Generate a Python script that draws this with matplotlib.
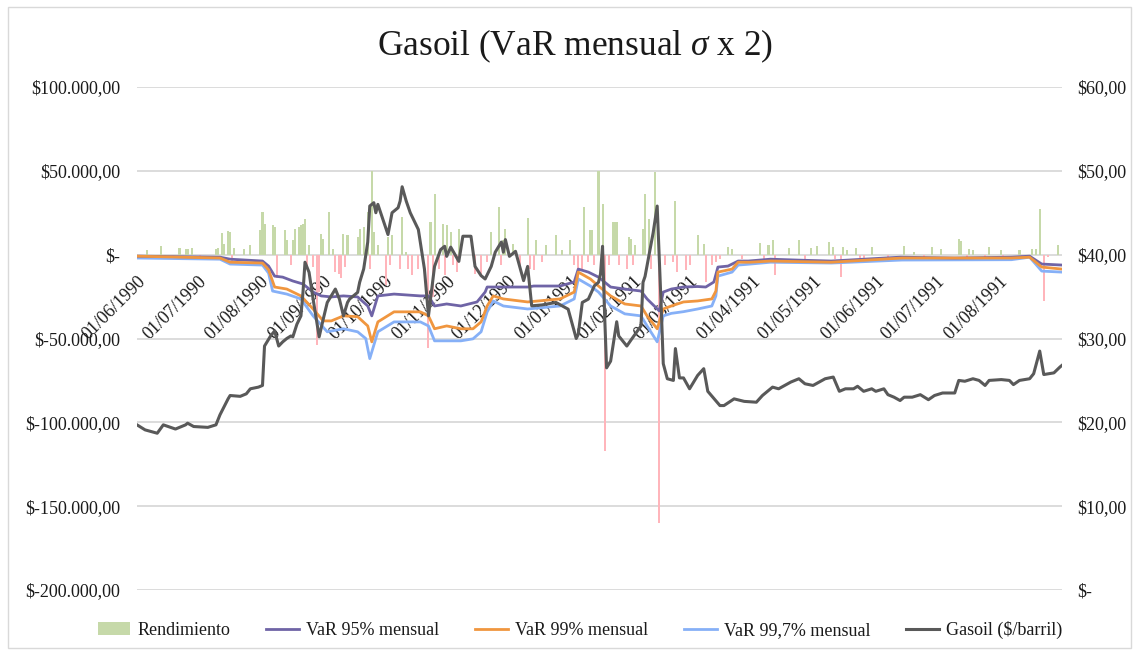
import numpy as np
import matplotlib
matplotlib.use("Agg")
import matplotlib.pyplot as plt
import matplotlib.dates as mdates
from matplotlib.patches import Patch, Rectangle
from matplotlib.lines import Line2D
from matplotlib.ticker import FixedLocator, FuncFormatter

plt.rcParams['font.family'] = ['Liberation Serif', 'DejaVu Serif']
plt.rcParams['mathtext.fontset'] = 'custom'
plt.rcParams['mathtext.it'] = 'Liberation Serif:italic'
plt.rcParams['mathtext.rm'] = 'Liberation Serif'

START = np.datetime64('1990-06-01')

# ---- Gasoil price ($/barril), right axis: day offset from 01/06/1990, price
gas_days = [0, 4, 10, 13, 19, 24, 25, 28, 35, 39, 41, 45, 46, 51, 54, 56, 60, 62, 63, 66,
            68, 70, 72, 74, 76, 77, 79, 81, 82, 83, 85, 87, 90, 92, 94, 98, 100, 102, 104, 105,
            109, 110, 112, 114, 115, 117, 118, 119, 124, 126, 129, 130, 131, 133, 135, 139, 142, 144, 147, 150,
            152, 153, 155, 159, 161, 165, 167, 170, 172, 175, 177, 180, 181, 182, 184, 187, 191, 193, 195, 200,
            207, 213, 217, 218, 220, 223, 226, 228, 229, 230, 231, 232, 234, 237, 238, 242, 244, 249, 250, 251,
            255, 257, 259, 260, 262, 265, 266, 268, 270, 273, 277, 280, 282, 288, 290, 295, 300, 306, 309, 314,
            317, 323, 327, 330, 334, 340, 344, 347, 350, 354, 356, 359, 363, 365, 369, 371, 374, 377, 379, 383,
            387, 391, 394, 398, 404, 406, 409, 413, 416, 419, 421, 427, 431, 433, 436, 441, 443, 446, 448, 453,
            456, 457]
gas_price = [19.7, 19.1, 18.7, 19.7, 19.2, 19.7, 19.9, 19.5, 19.4, 19.7, 20.9, 22.8, 23.2, 23.1, 23.4, 24.0, 24.2, 24.4, 29.1, 30.3,
             30.9, 29.1, 29.6, 30.0, 30.3, 30.2, 31.7, 32.7, 35.5, 39.1, 37.9, 34.7, 30.2, 32.3, 34.3, 35.9, 34.7, 32.7, 34.3, 34.7,
             35.5, 36.7, 38.3, 41.5, 45.8, 46.2, 45.0, 46.0, 42.4, 45.0, 45.6, 46.4, 48.1, 46.4, 45.0, 43.0, 38.3, 32.7, 38.6, 40.6,
             41.0, 39.8, 40.9, 39.2, 42.2, 42.2, 38.6, 37.5, 37.1, 38.6, 40.3, 41.5, 40.3, 41.8, 39.8, 40.4, 36.9, 38.6, 33.9, 34.0,
             34.3, 33.5, 30.0, 30.5, 34.3, 34.7, 36.3, 36.7, 37.7, 41.0, 33.0, 26.5, 27.3, 32.0, 30.3, 29.1, 29.8, 31.5, 36.7, 37.4,
             42.6, 45.8, 33.7, 27.0, 25.2, 25.0, 28.8, 25.3, 25.3, 24.0, 25.6, 26.4, 23.7, 22.0, 22.0, 22.8, 22.5, 22.4, 23.2, 24.2,
             24.0, 24.8, 25.2, 24.6, 24.4, 25.2, 25.4, 23.7, 24.0, 24.0, 24.3, 23.7, 24.0, 23.7, 24.0, 23.3, 23.0, 22.6, 23.0, 23.0,
             23.3, 22.7, 23.2, 23.5, 23.5, 25.0, 24.9, 25.2, 25.0, 24.4, 25.0, 25.1, 25.0, 24.5, 25.0, 25.2, 25.8, 28.5, 25.7, 25.9,
             26.6, 26.8]

# ---- VaR series (left axis)
var95_days = [0, 41, 46, 62, 65, 68, 72, 77, 82, 87, 91, 96, 102, 109, 114, 116, 119, 127, 140, 144,
              147, 153, 160, 168, 172, 173, 181, 193, 196, 209, 216, 218, 223, 228, 234, 241, 249, 252, 258, 260,
              264, 270, 277, 281, 285, 287, 292, 297, 302, 313, 328, 343, 377, 404, 432, 441, 447, 457]
var95 = [-900, -1500, -2700, -3800, -6800, -12800, -13400, -15700, -17500, -22300, -24600, -25200, -24600, -25200, -30600, -36500, -24600, -23500, -24600, -24600,
         -30600, -29400, -30600, -28200, -22300, -19300, -19300, -19300, -18700, -18700, -16300, -8600, -10400, -13400, -19300, -20500, -21700, -26400, -33500, -22300,
         -20500, -19300, -19000, -19300, -16300, -7400, -6800, -3800, -3800, -2700, -3300, -3800, -1500, -2000, -1500, -900, -5600, -6200]

var99_days = [0, 41, 46, 62, 65, 68, 74, 81, 87, 92, 96, 102, 109, 114, 116, 119, 127, 140, 144, 147,
              153, 160, 166, 170, 173, 176, 181, 193, 209, 216, 218, 224, 228, 234, 241, 249, 252, 257, 260, 264,
              270, 277, 284, 286, 287, 294, 297, 303, 313, 343, 378, 432, 441, 447, 457]
var99 = [-900, -2000, -4500, -5000, -9000, -19300, -20500, -24600, -32400, -39500, -39500, -36500, -37000, -42500, -52000, -40100, -34100, -34100, -36500, -44200,
         -42500, -44200, -44200, -40100, -30600, -24600, -26400, -28200, -26400, -22300, -10400, -14500, -18700, -24600, -29400, -30600, -36500, -44200, -32400, -30600,
         -28200, -27600, -26400, -21700, -10400, -8600, -4500, -4500, -3800, -4500, -2000, -2000, -1500, -7400, -8600]

var997_days = [0, 41, 46, 62, 65, 67, 74, 81, 87, 94, 102, 109, 113, 115, 119, 127, 140, 144, 147, 160,
               166, 170, 173, 176, 181, 193, 209, 216, 218, 224, 228, 234, 241, 249, 252, 257, 260, 264, 270, 277,
               284, 286, 287, 294, 297, 303, 313, 343, 378, 432, 441, 447, 457]
var997 = [-2000, -2700, -5600, -6200, -11000, -21700, -23500, -26400, -36500, -46000, -44200, -46000, -50000, -62000, -46000, -40100, -40100, -42500, -51400, -51400,
          -50200, -46000, -34100, -27600, -30600, -32400, -30600, -26400, -14500, -18700, -22300, -30600, -35300, -36500, -42500, -52000, -36500, -35000, -34000, -32400,
          -30600, -24600, -12800, -10400, -6200, -5600, -4500, -5000, -3200, -3000, -1500, -9800, -10400]

# ---- Rendimiento (daily P&L bars), left axis
ret_days = [5, 12, 21, 24, 25, 27, 39, 40, 42, 43, 45, 46, 48, 53, 56, 61, 62, 63, 67, 68,
            73, 74, 77, 78, 80, 81, 82, 83, 85, 91, 92, 95, 97, 102, 104, 109, 110, 112, 114, 116,
            117, 119, 124, 126, 131, 133, 145, 147, 151, 153, 155, 159, 166, 175, 179, 181, 182, 186, 193, 197,
            202, 207, 210, 214, 221, 224, 225, 228, 230, 235, 236, 237, 243, 244, 246, 250, 251, 253, 256, 266,
            277, 280, 292, 294, 308, 312, 314, 322, 327, 333, 336, 342, 344, 349, 351, 355, 363, 379, 384, 393,
            397, 406, 407, 411, 413, 421, 427, 436, 442, 444, 446, 455,
            3, 14, 18, 31, 47, 69, 76, 84, 87, 89, 90, 98, 100, 101, 103, 115, 123, 125, 130, 134,
            136, 139, 144, 146, 149, 152, 156, 158, 167, 170, 173, 180, 189, 194, 196, 200, 216, 218, 220, 223,
            226, 231, 233, 238, 242, 245, 254, 258, 261, 265, 267, 271, 273, 281, 284, 286, 288, 299, 310, 315,
            330, 345, 348, 357, 359, 371, 389, 410, 419, 428, 437, 448, 450]
ret_vals = [2600, 5100, 4000, 3200, 3500, 4000, 3200, 4000, 13100, 6400, 13900, 13500, 4000, 3500, 5900, 14500, 25300, 18400, 17400, 16400,
            14500, 8500, 8500, 15400, 16400, 17400, 18400, 21400, 5600, 12500, 9500, 25700, 3500, 12500, 11500, 10500, 15400, 16400, 25300, 50000,
            13500, 5600, 10500, 11500, 22400, 1600, 19400, 36200, 18400, 17400, 13500, 15400, 2600, 13500, 28300, 8500, 15400, 6400, 21800, 8500,
            5600, 11500, 2600, 8500, 28300, 14500, 14500, 50000, 30300, 19400, 19400, 19400, 10500, 9500, 5900, 15400, 36200, 21400, 49500, 32300,
            11500, 6500, 4500, 3500, 6900, 5900, 8900, 3900, 8500, 3900, 5000, 7500, 4500, 4500, 2600, 4000, 4500, 5100, 1600, 4500,
            3500, 9500, 8000, 3500, 2600, 4500, 2600, 2600, 3200, 3200, 27300, 5900,
            -2400, -2000, -2000, -2000, -4400, -14200, -6400, -7300, -7300, -54000, -22000, -10300, -11300, -14200, -7300, -8300, -18200, -6400, -8300, -8300,
            -12300, -8300, -55800, -25000, -8300, -12300, -6400, -10300, -11300, -12300, -4400, -6400, -6400, -8300, -9300, -4400, -6400, -14200, -8300, -4400,
            -6400, -117000, -6400, -6400, -8300, -6400, -8300, -160000, -6400, -4400, -10300, -9300, -6400, -16300, -6400, -4400, -2400, -2400, -2400, -12300,
            -2400, -2400, -13300, -2400, -2400, -1600, -1600, -1600, -1600, -2000, -1600, -27600, -1600]

left_ticks = [100000, 50000, 0, -50000, -100000, -150000, -200000]
right_ticks = [60, 50, 40, 30, 20, 10, 0]
month_ticks = ['1990-06-01', '1990-07-01', '1990-08-01', '1990-09-01', '1990-10-01', '1990-11-01',
               '1990-12-01', '1991-01-01', '1991-02-01', '1991-03-01', '1991-04-01', '1991-05-01',
               '1991-06-01', '1991-07-01', '1991-08-01']


def to_dates(days):
    return START + np.array(days, dtype='timedelta64[D]')


def left_fmt(v, pos=None):
    if v == 0:
        return '$-'
    s = f"{abs(v):,.2f}".replace(',', 'X').replace('.', ',').replace('X', '.')
    return ('$-' if v < 0 else '$') + s


def right_fmt(v, pos=None):
    if v == 0:
        return '$-'
    return '$' + f"{v:.2f}".replace('.', ',')


W, H = 1139, 655
fig = plt.figure(figsize=(W / 100, H / 100), dpi=100, facecolor='white')
fig.patches.append(Rectangle((8 / W, 1 - 648 / H), (1131 - 8) / W, (648 - 7) / H,
                             transform=fig.transFigure, fill=False, edgecolor='#d9d9d9', lw=1.0))

ax = fig.add_axes([137 / W, 1 - 590 / H, (1062 - 137) / W, (590 - 87) / H])
ax2 = ax.twinx()

green = '#c6d9a9'
pink = '#ffb5bb'
c95 = '#6f64a6'
c99 = '#f0963f'
c997 = '#86b0f7'
cgas = '#595959'

rv = np.array(ret_vals)
rd = to_dates(ret_days)
ax.bar(rd, rv, width=1.0, color=np.where(rv >= 0, green, pink), linewidth=0, zorder=2)
ax.plot(to_dates(var95_days), var95, color=c95, lw=2.0, zorder=4)
ax.plot(to_dates(var99_days), var99, color=c99, lw=2.0, zorder=4)
ax.plot(to_dates(var997_days), var997, color=c997, lw=2.0, zorder=3)
ax2.plot(to_dates(gas_days), gas_price, color=cgas, lw=2.2, zorder=5)

ax.set_ylim(-200000, 100000)
ax2.set_ylim(0, 60)
ax.set_xlim(to_dates([0])[0], to_dates([457])[0])

ax.yaxis.set_major_locator(FixedLocator(left_ticks))
ax.yaxis.set_major_formatter(FuncFormatter(left_fmt))
ax2.yaxis.set_major_locator(FixedLocator(right_ticks))
ax2.yaxis.set_major_formatter(FuncFormatter(right_fmt))

ax.grid(axis='y', color='#d9d9d9', lw=1.3, zorder=0)
ax.set_axisbelow(True)
for a in (ax, ax2):
    for s in a.spines.values():
        s.set_visible(False)
ax.tick_params(axis='y', length=0, pad=12, labelsize=13, labelcolor='#1a1a1a')
ax2.tick_params(axis='y', length=0, pad=11, labelsize=13, labelcolor='#1a1a1a')

ax.spines['bottom'].set_position(('data', 0))
ax.xaxis.set_major_locator(FixedLocator(mdates.date2num(np.array(month_ticks, dtype='datetime64[D]'))))
ax.xaxis.set_major_formatter(mdates.DateFormatter('%d/%m/%Y'))
ax.tick_params(axis='x', length=0, pad=13, labelsize=13, labelcolor='#1a1a1a')
for lab in ax.get_xticklabels():
    lab.set_rotation(45)
    lab.set_ha('right')
    lab.set_va('top')
    lab.set_rotation_mode('anchor')

fig.text(0.505, 1 - 46 / H, 'Gasoil (VaR mensual $\\sigma$ x 2)', ha='center', va='center',
         fontsize=25.5, color='#1a1a1a')

handles = [Patch(facecolor=green, edgecolor='none'),
           Line2D([], [], color=c95, lw=2.0),
           Line2D([], [], color=c99, lw=2.0),
           Line2D([], [], color=c997, lw=2.0),
           Line2D([], [], color=cgas, lw=2.2)]
labels = ['Rendimiento', 'VaR 95% mensual', 'VaR 99% mensual', 'VaR 99,7% mensual', 'Gasoil ($/barril)']
fig.legend(handles, labels, loc='center', bbox_to_anchor=(580 / W, 1 - 630 / H), ncol=5,
           frameon=False, fontsize=13, handlelength=1.8, columnspacing=2.0, handletextpad=0.4,
           labelcolor='#1a1a1a')

fig.savefig('out.png', dpi=100, facecolor='white')
